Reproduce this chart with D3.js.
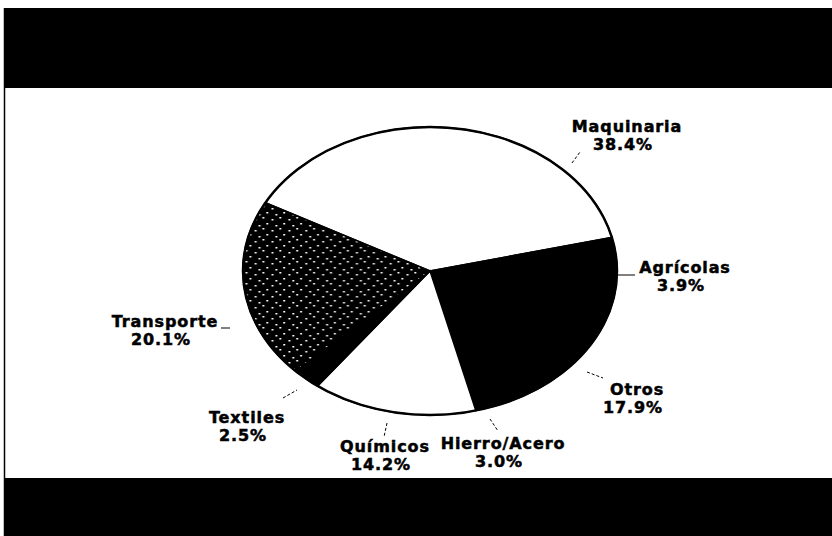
<!DOCTYPE html>
<html>
<head>
<meta charset="utf-8">
<script src="https://cdn.jsdelivr.net/npm/d3@7"></script>
<style>
  body { margin: 0; background: #fff; }
  .lbl { font-family: "DejaVu Sans", sans-serif; font-weight: bold; font-size: 16px; letter-spacing: 0.9px;
         fill: #000; stroke: #000; stroke-width: 0.5px; }
</style>
</head>
<body>
<div id="chart"></div>
<script>
// data
var categories = ["Maquinaria", "Agrícolas", "Otros", "Hierro/Acero", "Químicos", "Textiles", "Transporte"];
var shares = [38.4, 3.9, 17.9, 3.0, 14.2, 2.5, 20.1];
var pctLabels = ["38.4%", "3.9%", "17.9%", "3.0%", "14.2%", "2.5%", "20.1%"];

var width = 832, height = 536;
var cx = 430, cy = 271, rx = 187, ry = 144;
var startDeg = -61.7;

// label layout: [centre x, first baseline], leader [x1,y1,x2,y2]
var labelPos = [[627, 132], [685, 273], [637, 395], [503, 449], [385, 452], [247, 423], [165, 327]];
var leaders = [[572, 163, 580, 152], [614, 275, 635, 275], [587, 372, 603, 378], [490, 419, 498, 431],
               [387, 423, 384, 437], [283, 398, 297, 390], [221, 328, 230, 328]];

var svg = d3.select("#chart").append("svg")
  .attr("width", width)
  .attr("height", height);

var defs = svg.append("defs");
var pat = defs.append("pattern")
  .attr("id", "speckle")
  .attr("patternUnits", "userSpaceOnUse")
  .attr("width", 13).attr("height", 11);
pat.append("rect").attr("width", 13).attr("height", 11).attr("fill", "#000");
[[1, 1], [8, 3], [4, 7], [11, 9]].forEach(function(p) {
  pat.append("rect").attr("x", p[0]).attr("y", p[1]).attr("width", 1.5).attr("height", 1.5).attr("fill", "#fff");
});

var fills = ["#ffffff", "#000000", "#000000", "#000000", "#ffffff", "#000000", "url(#speckle)"];

// black bands of the scanned slide
svg.append("rect").attr("x", 4).attr("y", 8).attr("width", width - 4).attr("height", 80).attr("fill", "#000");
svg.append("rect").attr("x", 4).attr("y", 478).attr("width", width - 4).attr("height", height - 478).attr("fill", "#000");
svg.append("line").attr("x1", 4.5).attr("x2", 4.5).attr("y1", 8).attr("y2", height)
  .attr("stroke", "#000").attr("stroke-width", 1.5);

var pie = d3.pie()
  .sort(null)
  .value(function(d) { return d; })
  .startAngle(startDeg * Math.PI / 180)
  .endAngle(startDeg * Math.PI / 180 + 2 * Math.PI);

var arc = d3.arc().innerRadius(0).outerRadius(ry);

var pieG = svg.append("g")
  .attr("transform", "translate(" + cx + "," + cy + ") scale(" + (rx / ry) + ",1)");

pieG.selectAll("path")
  .data(pie(shares))
  .enter().append("path")
  .attr("d", arc)
  .attr("fill", function(d, i) { return fills[i]; })
  .attr("stroke", "#000")
  .attr("stroke-width", 1.5)
  .attr("vector-effect", "non-scaling-stroke");

pieG.append("ellipse")
  .attr("rx", ry).attr("ry", ry)
  .attr("fill", "none")
  .attr("stroke", "#000")
  .attr("stroke-width", 2.5)
  .attr("vector-effect", "non-scaling-stroke");

// leaders
svg.selectAll("line.leader")
  .data(leaders)
  .enter().append("line")
  .attr("class", "leader")
  .attr("x1", function(d) { return d[0]; })
  .attr("y1", function(d) { return d[1]; })
  .attr("x2", function(d) { return d[2]; })
  .attr("y2", function(d) { return d[3]; })
  .attr("stroke", "#000")
  .attr("stroke-width", 1)
  .attr("stroke-dasharray", function(d, i) { return i === 1 || i === 6 ? null : "3,2"; });

var labels = svg.selectAll("text.lbl")
  .data(categories)
  .enter().append("text")
  .attr("class", "lbl")
  .attr("text-anchor", "middle")
  .attr("x", function(d, i) { return labelPos[i][0]; })
  .attr("y", function(d, i) { return labelPos[i][1]; });

labels.append("tspan")
  .text(function(d) { return d; });
labels.append("tspan")
  .attr("x", function(d, i) { return labelPos[i][0] - 4; })
  .attr("dy", 18)
  .text(function(d, i) { return pctLabels[i]; });
</script>
</body>
</html>
